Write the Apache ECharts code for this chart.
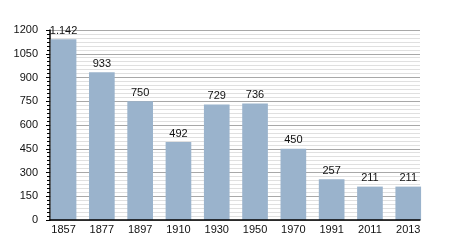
<!DOCTYPE html>
<html><head><meta charset="utf-8">
<script src="https://cdn.jsdelivr.net/npm/echarts@6/dist/echarts.min.js"></script>
<style>html,body{margin:0;padding:0;background:#fff}#c{width:450px;height:250px}</style>
</head><body><div id="c"></div>
<script>
const years = ['1857','1877','1897','1910','1930','1950','1970','1991','2011','2013'];
const population = [1142, 933, 750, 492, 729, 736, 450, 257, 211, 211];
const yMin = 0, yMax = 1200, yStep = 150;

function fmt(v){ return String(v).replace(/\B(?=(\d{3})+(?!\d))/g, '.'); }
const font = 'Liberation Sans, Arial, sans-serif';
const chart = echarts.init(document.getElementById('c'), null, {renderer:'canvas'});
chart.setOption({
  animation:false,
  backgroundColor:'#fff',
  textStyle:{fontFamily:font},
  grid:[
    {left:50, right:30, top:30, bottom:30},
    {left:44.4, right:22.6, top:30, bottom:30}
  ],
  xAxis:[
    {gridIndex:0, type:'value', min:0, max:1, z:5, axisLine:{show:true, lineStyle:{color:'#000', width:1.5}},
     axisTick:{show:false}, axisLabel:{show:false}, splitLine:{show:false}},
    {gridIndex:1, type:'category', data:years, axisLine:{show:false}, axisTick:{show:false},
     axisLabel:{color:'#111', fontSize:11, margin:4, fontFamily:font}}
  ],
  yAxis:[
    {gridIndex:0, type:'value', min:yMin, max:yMax, interval:yStep,
     axisLine:{show:true, lineStyle:{color:'#000', width:1.5}},
     axisTick:{show:true, length:4, lineStyle:{color:'#000'}},
     minorTick:{show:true, splitNumber:6, length:3, lineStyle:{color:'#000'}},
     axisLabel:{color:'#111', fontSize:11, margin:12, fontFamily:font, formatter:v=>String(v)},
     splitLine:{show:true, lineStyle:{color:'#a8a8a8', width:1}},
     minorSplitLine:{show:true, lineStyle:{color:'#e0e0e0', width:1}}},
    {gridIndex:1, type:'value', min:yMin, max:yMax, show:false}
  ],
  series:[{
    type:'bar', xAxisIndex:1, yAxisIndex:1, data:population,
    barCategoryGap:'33%',
    itemStyle:{color:'#9ab3cc'},
    label:{show:true, position:'top', distance:3, color:'#111', fontSize:11, fontFamily:font,
      formatter:p=>fmt(p.value)}
  }]
});
</script></body></html>
